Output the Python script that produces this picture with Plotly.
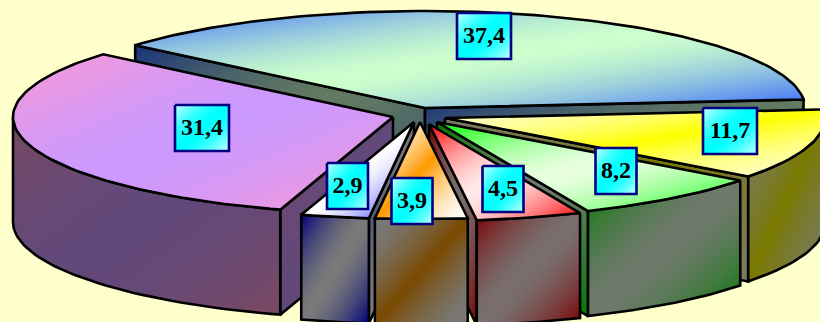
import math
import plotly.graph_objects as go

# ---- data ----
labels = ["37,4", "11,7", "8,2", "4,5", "3,9", "2,9", "31,4"]
values = [37.4, 11.7, 8.2, 4.5, 3.9, 2.9, 31.4]

# ---- styling / layout constants ----
BG = "#FFFFCC"
edge_cols = ["#3366FF", "#FFFFCC", "#00FF00", "#FF0000", "#FFFFFF", "#0000FF", "#FF99CC"]
mid_cols = ["#CCFFCC", "#FFFF00", "#E8FFE0", "#FFE8E8", "#FF9900", "#FFFFFF", "#CC99FF"]
# True: the pale end colour dominates; False: the mid colour dominates
edge_dominant = [False, True, False, False, True, False, False]
apex_x = [425, 445, 437, 429, 420, 414, 393]
apex_y = [108, 118, 122, 124, 122, 122, 117]
label_cx = [484, 730, 616, 503, 412, 347.5, 202]
label_cy = [36, 131, 171, 189, 201, 186, 128]
draw_order = [0, 1, 2, 3, 6, 5, 4]
START = 139.7
RX, RY, DEPTH = 380, 97, 105
WALL = 0.48
P = 1.6
W, H = 820, 322


def hex2rgb(h):
    return tuple(int(h[i:i + 2], 16) for i in (1, 3, 5))


def clip(poly, u, v, th):
    """Keep the part of poly where u*x + v*y >= th."""
    out = []
    n = len(poly)
    for i in range(n):
        a, b = poly[i], poly[(i + 1) % n]
        da = u * a[0] + v * a[1] - th
        db = u * b[0] + v * b[1] - th
        if da >= 0:
            out.append(a)
        if (da >= 0) != (db >= 0):
            r = da / (da - db)
            out.append((a[0] + (b[0] - a[0]) * r, a[1] + (b[1] - a[1]) * r))
    return out


fig = go.Figure()


def face(poly, edge, mid, scale=1.0, dom=False, line="black", lw=2.6, min_bands=32):
    xs = [p[0] for p in poly]
    ys = [p[1] for p in poly]
    x0, x1, y0, y1 = min(xs), max(xs), min(ys), max(ys)
    w, h = max(x1 - x0, 1), max(y1 - y0, 1)
    e, m = hex2rgb(edge), hex2rgb(mid)
    n = int(min(72, max(min_bands, (w + h) / 3)))
    u, v = 0.5 / w, 0.5 / h
    off = u * x0 + v * y0
    for k in range(n):
        part = clip(poly, u, v, off + k / n) if k else poly
        if len(part) < 3:
            continue
        t = abs(2 * (k + 0.5) / n - 1)
        t = 1 - (1 - t) ** P if dom else t ** P
        c = [round((m[i] + (e[i] - m[i]) * t) * scale) for i in range(3)]
        fig.add_trace(go.Scatter(
            x=[p[0] for p in part] + [part[0][0]],
            y=[p[1] for p in part] + [part[0][1]],
            mode="none", fill="toself", fillcolor=f"rgb({c[0]},{c[1]},{c[2]})",
            hoverinfo="skip", showlegend=False))
    fig.add_trace(go.Scatter(
        x=xs + [xs[0]], y=ys + [ys[0]], mode="lines",
        line=dict(color=line, width=lw), hoverinfo="skip", showlegend=False))


# angular extents from the values
total = sum(values)
angles = []
cur = START
for val in values:
    nxt = cur - val / total * 360
    angles.append((cur, nxt))
    cur = nxt


def pt(i, deg):
    r = math.radians(deg)
    return (apex_x[i] + RX * math.cos(r), apex_y[i] - RY * math.sin(r))


def arc(i, a, b):
    n = max(2, int(abs(a - b) / 1.5))
    return [pt(i, a + (b - a) * j / n) for j in range(n + 1)]


for i in draw_order:
    a0, a1 = angles[i]
    e, m, d = edge_cols[i], mid_cols[i], edge_dominant[i]
    apex = (apex_x[i], apex_y[i])
    # radial cut faces that look towards the viewer
    for ang, normal in ((a0, a0 + 90), (a1, a1 - 90)):
        if math.sin(math.radians(normal)) < 0:
            p = pt(i, ang)
            face([apex, p, (p[0], p[1] + DEPTH), (apex[0], apex[1] + DEPTH)], e, m, WALL, d)
    # outer wall: front part of the rim only
    w_hi = min(a0, 0)
    w_lo = max(a1, -180)
    if w_hi > w_lo:
        top = arc(i, w_hi, w_lo)
        bot = [(x, y + DEPTH) for x, y in reversed(top)]
        face(top + bot, e, m, WALL, d)
    # top face
    face([apex] + arc(i, a0, a1), e, m, 1.0, d)

# value labels
for i, txt in enumerate(labels):
    cx, cy = label_cx[i], label_cy[i]
    hw = 27 if len(txt) == 4 else 20.5
    box = [(cx - hw, cy - 23), (cx + hw, cy - 23), (cx + hw, cy + 23), (cx - hw, cy + 23)]
    face(box, "#CCFFFF", "#00FFFF", 1.0, False, line="#000080", lw=2.6, min_bands=24)

fig.add_trace(go.Scatter(
    x=label_cx, y=[c + 0.5 for c in label_cy], mode="text", text=labels,
    textposition="middle center",
    textfont=dict(family="Liberation Serif", size=24, color="black", weight="bold"),
    hoverinfo="skip", showlegend=False))

fig.update_layout(
    width=W, height=H, margin=dict(l=0, r=0, t=0, b=0),
    paper_bgcolor=BG, plot_bgcolor=BG, showlegend=False,
    xaxis=dict(range=[0, W], visible=False, fixedrange=True),
    yaxis=dict(range=[H, 0], visible=False, fixedrange=True),
)
fig.write_html("out.html", config={"displayModeBar": False},
               post_script="document.body.style.margin='0';document.body.style.background='#FFFFCC';document.documentElement.style.overflow='hidden';")
